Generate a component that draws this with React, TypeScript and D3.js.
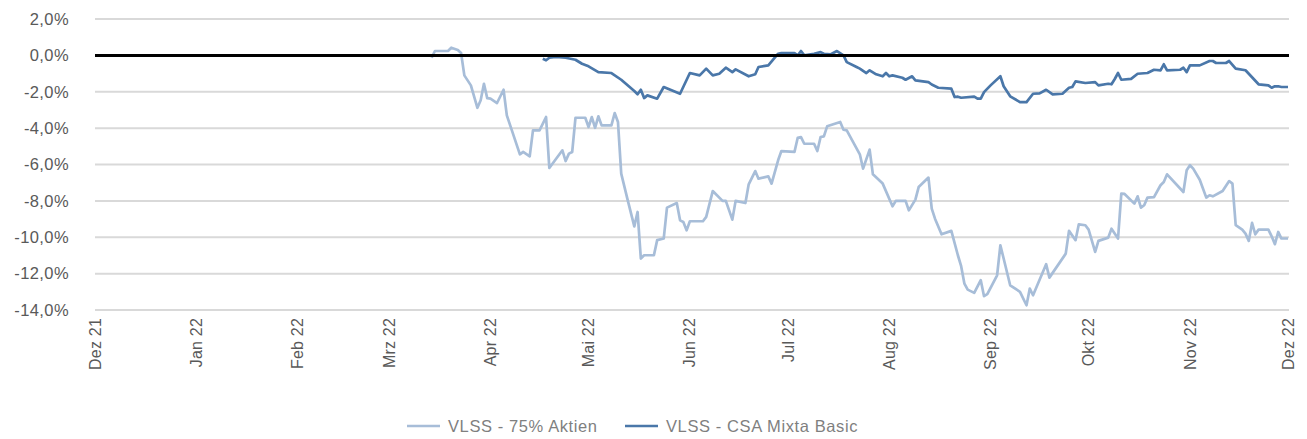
import React from "react";
import * as d3 from "d3";

// Monatsachse
const monthTicks = [
  "2021-12-01", "2022-01-01", "2022-02-01", "2022-03-01", "2022-04-01", "2022-05-01", "2022-06-01",
  "2022-07-01", "2022-08-01", "2022-09-01", "2022-10-01", "2022-11-01", "2022-12-01",
];
const monthLabels = [
  "Dez 21", "Jan 22", "Feb 22", "Mrz 22", "Apr 22", "Mai 22", "Jun 22",
  "Jul 22", "Aug 22", "Sep 22", "Okt 22", "Nov 22", "Dez 22",
];
const yTicks = [2, 0, -2, -4, -6, -8, -10, -12, -14];

// VLSS - 75% Aktien
const aktienDates = [
  "2022-03-14", "2022-03-15", "2022-03-19", "2022-03-20", "2022-03-22", "2022-03-23", "2022-03-24", "2022-03-26",
  "2022-03-28", "2022-03-29", "2022-03-30", "2022-03-31", "2022-04-01", "2022-04-03", "2022-04-05", "2022-04-06",
  "2022-04-10", "2022-04-11", "2022-04-13", "2022-04-14", "2022-04-16", "2022-04-18", "2022-04-19", "2022-04-23",
  "2022-04-24", "2022-04-25", "2022-04-26", "2022-04-27", "2022-04-30", "2022-05-01", "2022-05-02", "2022-05-03",
  "2022-05-04", "2022-05-05", "2022-05-08", "2022-05-09", "2022-05-10", "2022-05-11", "2022-05-13", "2022-05-15",
  "2022-05-16", "2022-05-17", "2022-05-18", "2022-05-21", "2022-05-22", "2022-05-24", "2022-05-25", "2022-05-28",
  "2022-05-29", "2022-05-30", "2022-05-31", "2022-06-01", "2022-06-05", "2022-06-06", "2022-06-08", "2022-06-11",
  "2022-06-12", "2022-06-14", "2022-06-15", "2022-06-18", "2022-06-19", "2022-06-21", "2022-06-22", "2022-06-25",
  "2022-06-26", "2022-06-28", "2022-06-29", "2022-07-03", "2022-07-04", "2022-07-05", "2022-07-06", "2022-07-09",
  "2022-07-10", "2022-07-11", "2022-07-12", "2022-07-13", "2022-07-17", "2022-07-18", "2022-07-19", "2022-07-23",
  "2022-07-24", "2022-07-26", "2022-07-27", "2022-07-30", "2022-08-02", "2022-08-03", "2022-08-06", "2022-08-07",
  "2022-08-09", "2022-08-10", "2022-08-13", "2022-08-14", "2022-08-15", "2022-08-17", "2022-08-20", "2022-08-22",
  "2022-08-23", "2022-08-24", "2022-08-25", "2022-08-27", "2022-08-29", "2022-08-30", "2022-08-31", "2022-09-03",
  "2022-09-04", "2022-09-05", "2022-09-07", "2022-09-10", "2022-09-12", "2022-09-13", "2022-09-14", "2022-09-18",
  "2022-09-19", "2022-09-24", "2022-09-25", "2022-09-27", "2022-09-28", "2022-09-30", "2022-10-01", "2022-10-03",
  "2022-10-04", "2022-10-07", "2022-10-08", "2022-10-10", "2022-10-11", "2022-10-12", "2022-10-15", "2022-10-16",
  "2022-10-17", "2022-10-18", "2022-10-19", "2022-10-21", "2022-10-23", "2022-10-24", "2022-10-25", "2022-10-30",
  "2022-10-31", "2022-11-01", "2022-11-02", "2022-11-04", "2022-11-06", "2022-11-07", "2022-11-08", "2022-11-11",
  "2022-11-13", "2022-11-14", "2022-11-15", "2022-11-17", "2022-11-18", "2022-11-19", "2022-11-20", "2022-11-21",
  "2022-11-22", "2022-11-25", "2022-11-26", "2022-11-27", "2022-11-28", "2022-11-29", "2022-12-01",
];
const aktienValues = [
  -0.13, 0.24, 0.24, 0.42, 0.3, 0.13, -1.1, -1.65,
  -2.88, -2.47, -1.56, -2.35, -2.38, -2.62, -1.89, -3.3,
  -5.44, -5.31, -5.55, -4.12, -4.12, -3.39, -6.19, -5.22,
  -5.81, -5.4, -5.31, -3.43, -3.43, -3.94, -3.39, -3.98,
  -3.35, -3.85, -3.85, -3.17, -3.66, -6.5, -7.97, -9.4,
  -8.61, -11.17, -10.99, -10.99, -10.16, -10.07, -8.37, -8.12,
  -9.07, -9.16, -9.62, -9.12, -9.12, -8.88, -7.46, -8.0,
  -8.0, -9.03, -8.0, -8.12, -7.09, -6.36, -6.78, -6.65,
  -7.05, -5.77, -5.26, -5.31, -4.53, -4.49, -4.86, -4.86,
  -5.26, -4.49, -4.45, -3.9, -3.66, -4.09, -4.12, -5.44,
  -6.23, -5.18, -6.54, -7.05, -8.3, -8.0, -8.0, -8.52,
  -7.93, -7.24, -6.72, -8.43, -8.98, -9.84, -9.65, -10.99,
  -11.59, -12.55, -12.88, -13.06, -12.36, -13.24, -13.13, -12.09,
  -10.44, -11.17, -12.64, -13.0, -13.74, -12.82, -13.19, -11.48,
  -12.22, -10.9, -9.65, -10.16, -9.29, -9.34, -9.58, -10.81,
  -10.2, -10.02, -9.53, -10.07, -7.6, -7.62, -8.15, -7.75,
  -8.37, -8.24, -7.82, -7.79, -7.14, -6.96, -6.54, -7.51,
  -6.32, -6.04, -6.23, -6.84, -7.82, -7.69, -7.75, -7.46,
  -6.91, -7.05, -9.34, -9.58, -9.8, -10.2, -9.21, -9.84,
  -9.58, -9.58, -9.95, -10.38, -9.71, -10.07, -10.07,
];

// VLSS - CSA Mixta Basic
const mixtaDates = [
  "2022-04-17", "2022-04-18", "2022-04-19", "2022-04-21", "2022-04-24", "2022-04-27", "2022-04-29", "2022-05-01",
  "2022-05-04", "2022-05-08", "2022-05-11", "2022-05-15", "2022-05-16", "2022-05-17", "2022-05-18", "2022-05-19",
  "2022-05-22", "2022-05-24", "2022-05-29", "2022-06-01", "2022-06-04", "2022-06-06", "2022-06-08", "2022-06-10",
  "2022-06-12", "2022-06-14", "2022-06-15", "2022-06-19", "2022-06-21", "2022-06-22", "2022-06-25", "2022-06-28",
  "2022-06-29", "2022-07-03", "2022-07-04", "2022-07-05", "2022-07-06", "2022-07-09", "2022-07-11", "2022-07-12",
  "2022-07-14", "2022-07-16", "2022-07-18", "2022-07-19", "2022-07-22", "2022-07-23", "2022-07-25", "2022-07-26",
  "2022-07-28", "2022-07-30", "2022-07-31", "2022-08-01", "2022-08-02", "2022-08-05", "2022-08-06", "2022-08-08",
  "2022-08-09", "2022-08-13", "2022-08-14", "2022-08-16", "2022-08-20", "2022-08-21", "2022-08-22", "2022-08-23",
  "2022-08-27", "2022-08-28", "2022-08-29", "2022-08-30", "2022-09-01", "2022-09-04", "2022-09-05", "2022-09-07",
  "2022-09-10", "2022-09-12", "2022-09-14", "2022-09-16", "2022-09-18", "2022-09-20", "2022-09-23", "2022-09-25",
  "2022-09-26", "2022-09-27", "2022-09-30", "2022-10-03", "2022-10-04", "2022-10-07", "2022-10-08", "2022-10-09",
  "2022-10-10", "2022-10-11", "2022-10-14", "2022-10-16", "2022-10-19", "2022-10-21", "2022-10-23", "2022-10-24",
  "2022-10-25", "2022-10-29", "2022-10-30", "2022-10-31", "2022-11-01", "2022-11-04", "2022-11-07", "2022-11-08",
  "2022-11-09", "2022-11-12", "2022-11-13", "2022-11-15", "2022-11-18", "2022-11-22", "2022-11-25", "2022-11-26",
  "2022-11-27", "2022-11-28", "2022-11-29", "2022-12-01",
];
const mixtaValues = [
  -0.19, -0.27, -0.13, -0.09, -0.13, -0.24, -0.46, -0.6,
  -0.92, -0.97, -1.34, -1.96, -2.14, -1.89, -2.35, -2.2,
  -2.38, -1.74, -2.11, -0.97, -1.1, -0.73, -1.1, -1.01,
  -0.68, -0.92, -0.77, -1.15, -1.04, -0.64, -0.55, 0.09,
  0.13, 0.13, 0.0, 0.24, 0.0, 0.09, 0.18, 0.09,
  0.05, 0.24, 0.0, -0.37, -0.64, -0.73, -0.97, -0.82,
  -1.04, -1.15, -0.97, -1.15, -1.1, -1.23, -1.34, -1.15,
  -1.37, -1.47, -1.6, -1.78, -1.83, -2.29, -2.27, -2.33,
  -2.27, -2.38, -2.38, -2.02, -1.65, -1.15, -1.7, -2.25,
  -2.57, -2.57, -2.11, -2.09, -1.89, -2.14, -2.11, -1.78,
  -1.74, -1.43, -1.52, -1.47, -1.65, -1.56, -1.59, -1.3,
  -0.97, -1.34, -1.29, -1.01, -0.97, -0.79, -0.82, -0.49,
  -0.82, -0.79, -0.68, -0.92, -0.55, -0.55, -0.31, -0.31,
  -0.42, -0.42, -0.31, -0.73, -0.82, -1.59, -1.65, -1.78,
  -1.7, -1.7, -1.74, -1.74,
];

const seriesNames = ["VLSS - 75% Aktien", "VLSS - CSA Mixta Basic"];
const seriesColors = ["#a7bdd8", "#4a77a9"];

const W = 1307;
const H = 439;
const parse = d3.utcParse("%Y-%m-%d");
const font = "'Liberation Sans', Arial, Helvetica, sans-serif";

export default function App() {
  const x = d3
    .scaleUtc()
    .domain([parse(monthTicks[0])!, parse(monthTicks[monthTicks.length - 1])!])
    .range([95, 1288]);
  const y = d3.scaleLinear().domain([-14, 2]).range([310, 19]);

  const line = d3
    .line<[Date, number]>()
    .x((d) => x(d[0]))
    .y((d) => y(d[1]));

  const series = [
    aktienDates.map((d, i) => [parse(d)!, aktienValues[i]] as [Date, number]),
    mixtaDates.map((d, i) => [parse(d)!, mixtaValues[i]] as [Date, number]),
  ];

  const fmt = (v: number) => v.toFixed(1).replace(".", ",") + "%";

  return (
    <svg
      width={W}
      height={H}
      style={{ position: "absolute", left: 0, top: 0, background: "#fff" }}
      fontFamily={font}
    >
      {/* Gitternetz */}
      {yTicks.filter((t) => t !== 0).map((t) => (
        <line key={t} x1={95} x2={1289} y1={y(t)} y2={y(t)} stroke="#d9d9d9" strokeWidth={2} />
      ))}
      {yTicks.map((t) => (
        <text key={"l" + t} x={69} y={y(t)} dy="0.35em" textAnchor="end" fontSize={16.5} letterSpacing={0.4} fill="#595959">
          {fmt(t)}
        </text>
      ))}

      {/* Linien */}
      {series.map((s, i) => (
        <path key={i} d={line(s) || ""} fill="none" stroke={seriesColors[i]} strokeWidth={2.7} strokeLinejoin="round" />
      ))}

      {/* Nulllinie */}
      <line x1={95} x2={1289} y1={y(0)} y2={y(0)} stroke="#000" strokeWidth={3} />

      {/* X-Achse */}
      {monthTicks.map((m, i) => {
        const px = x(parse(m)!);
        return (
          <text
            key={m}
            transform={`translate(${px},318) rotate(-90)`}
            dy="0.35em"
            textAnchor="end"
            fontSize={16}
            letterSpacing={0.2}
            fill="#595959"
          >
            {monthLabels[i]}
          </text>
        );
      })}

      {/* Legende */}
      {seriesNames.map((n, i) => {
        const lx = i === 0 ? 407 : 625;
        return (
          <g key={n}>
            <line x1={lx} x2={lx + 33} y1={426} y2={426} stroke={seriesColors[i]} strokeWidth={2.7} />
            <text x={lx + 41} y={426} dy="0.35em" fontSize={16.5} letterSpacing={0.6} fill="#7f7f7f">
              {n}
            </text>
          </g>
        );
      })}
    </svg>
  );
}
